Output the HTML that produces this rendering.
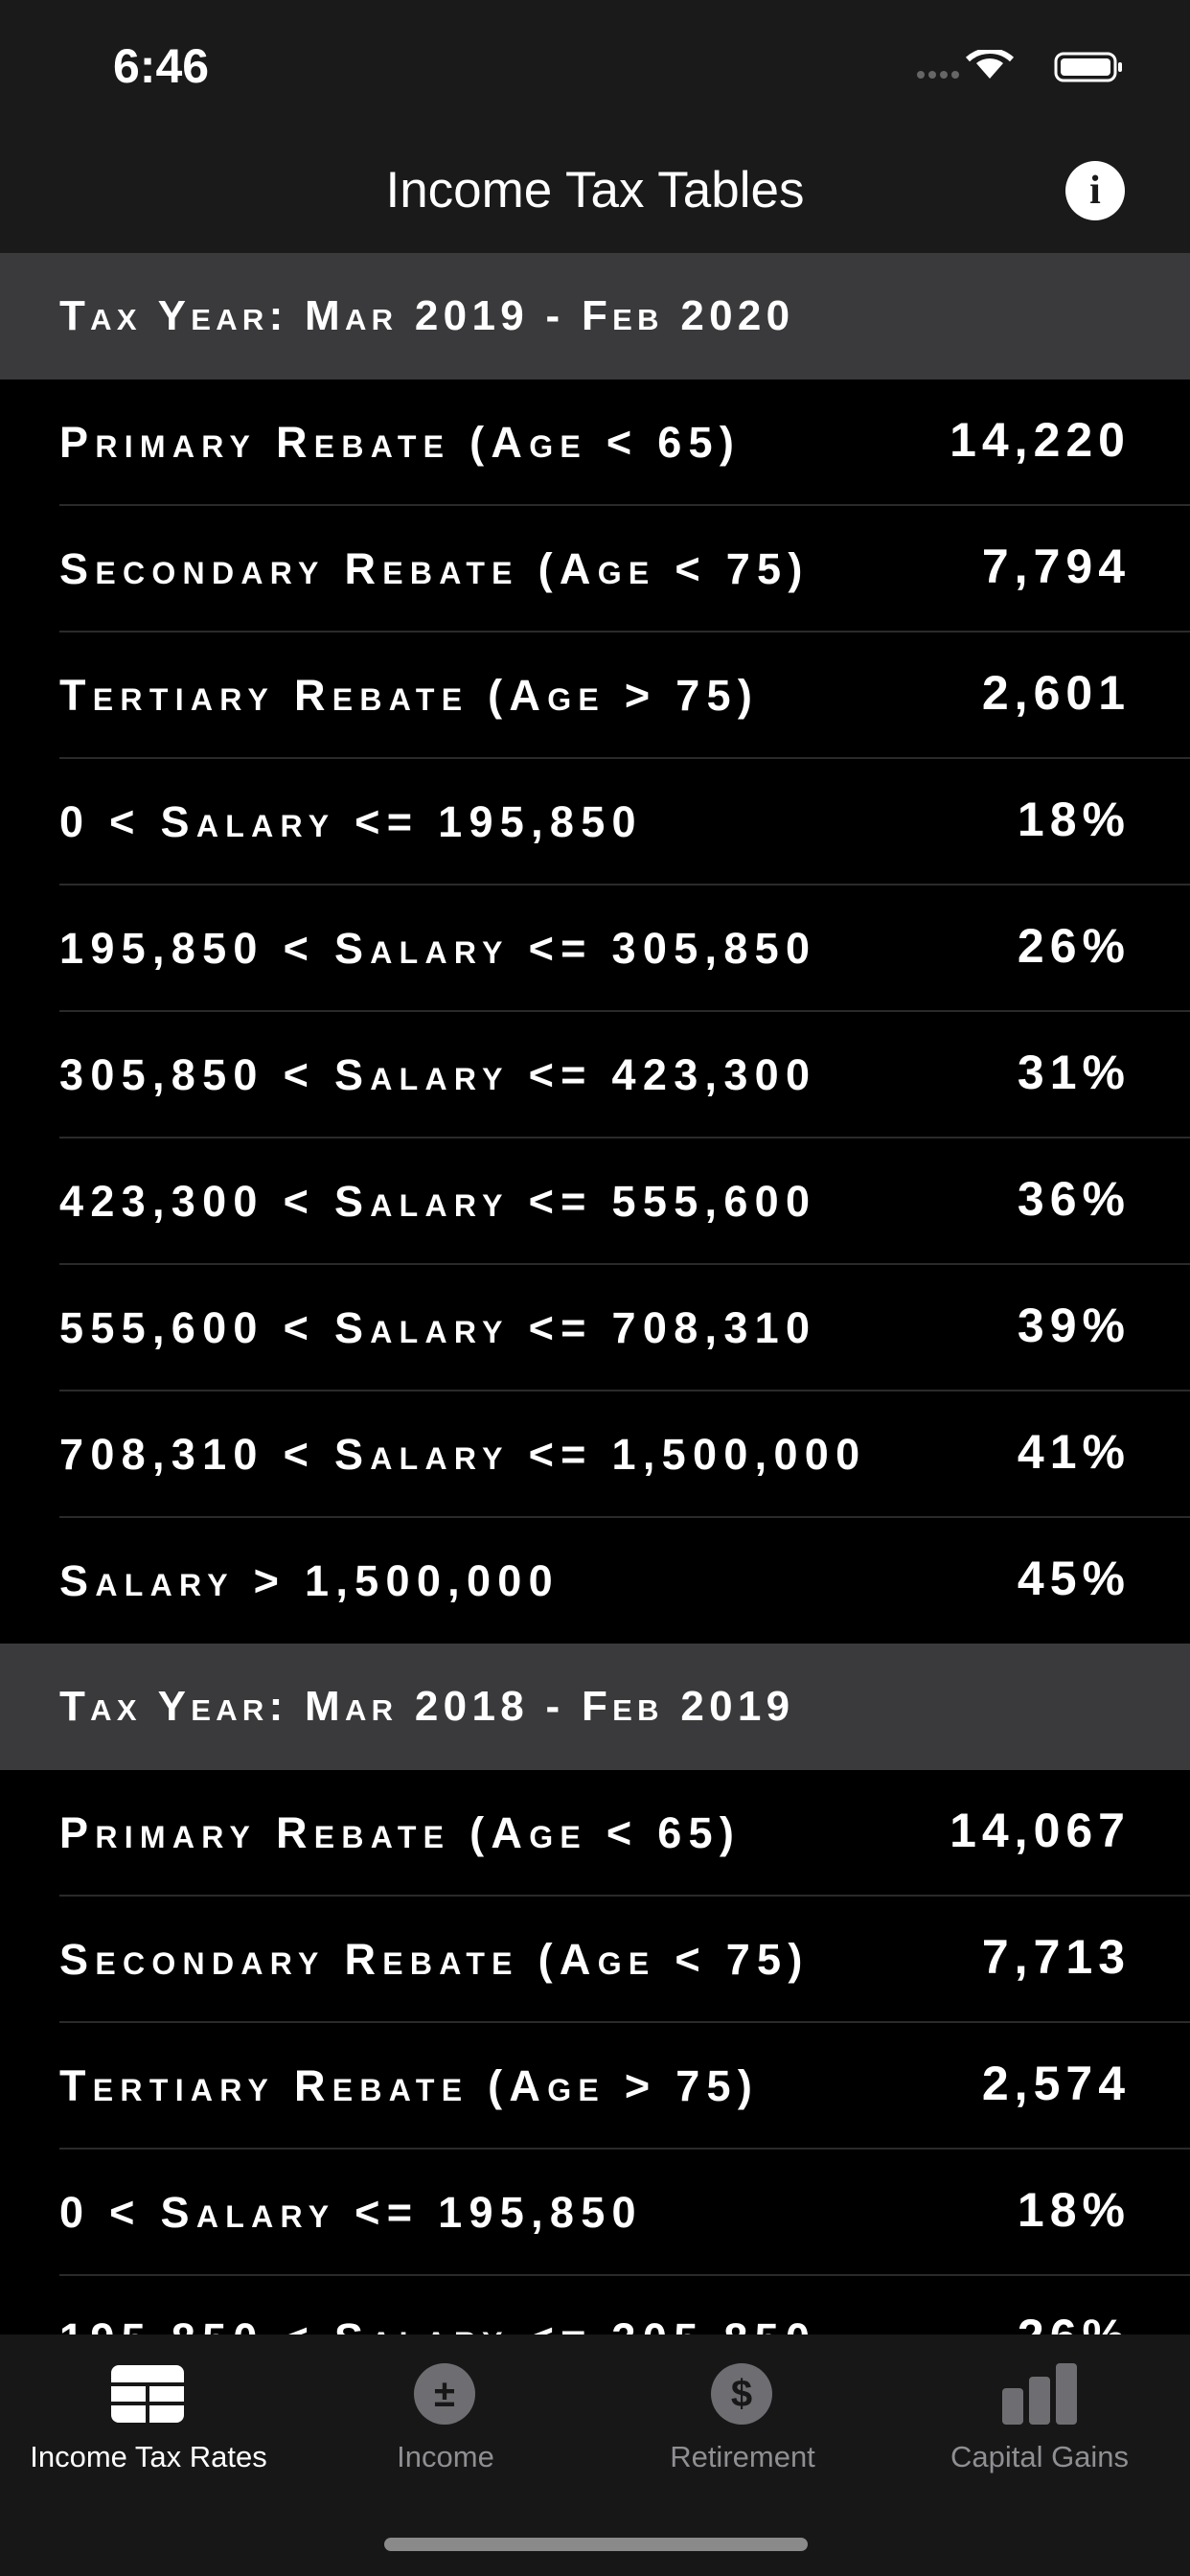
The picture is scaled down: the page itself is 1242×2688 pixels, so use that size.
<!DOCTYPE html>
<html><head><meta charset="utf-8"><style>
*{margin:0;padding:0;box-sizing:border-box}
body{width:1242px;height:2688px;background:#000;color:#fff;font-family:"Liberation Sans",sans-serif;position:relative;overflow:hidden}
.status{position:absolute;top:0;left:0;width:1242px;height:264px;background:#1a1a1a}
.time{position:absolute;left:118px;top:40px;font-size:50px;font-weight:bold}
.title{position:absolute;left:0;width:1242px;top:168px;text-align:center;font-size:53px}
.info{position:absolute;left:1112px;top:168px;width:62px;height:62px;border-radius:50%;background:#fff;color:#1a1a1a;text-align:center;font:bold 42px "Liberation Serif",serif;line-height:62px}
.hdr{position:absolute;left:0;width:1242px;height:132px;background:#3a3a3c;font-variant:small-caps;font-weight:bold;font-size:44px;letter-spacing:5.3px;padding-left:62px;line-height:132px}
.row{position:absolute;left:62px;width:1180px;height:132px;border-bottom:2px solid #2a2a2a;line-height:132px;font-variant:small-caps;font-weight:bold;font-size:45px;letter-spacing:7.3px}
.row .v{position:absolute;right:62px;top:-3px;font-size:50px;letter-spacing:6px}
.tab{position:absolute;left:0;top:2436px;width:1242px;height:252px;background:#171717}
.tl{position:absolute;top:2546px;font-size:31px;color:#8e8e93;text-align:center;width:310px}
.ic{position:absolute;top:2466px;width:64px;height:64px;border-radius:50%;background:#6e6e72;color:#171717;text-align:center;line-height:64px;font-size:40px;font-weight:bold}
.home{position:absolute;left:401px;top:2648px;width:442px;height:14px;border-radius:7px;background:#8a8a8a}
</style></head><body>
<div class="status">
<div class="time">6:46</div>
<svg style="position:absolute;left:955px;top:52px" width="230" height="36">
<g fill="#666"><circle cx="6" cy="26" r="4"/><circle cx="18" cy="26" r="4"/><circle cx="30" cy="26" r="4"/><circle cx="42" cy="26" r="4"/></g>
<path d="M78 30 L64 14 A22 22 0 0 1 92 14 Z" fill="#fff"/>
<path d="M55 10 A34 34 0 0 1 101 10" stroke="#fff" stroke-width="6" fill="none"/>
<rect x="147" y="4" width="62" height="28" rx="8" fill="none" stroke="#fff" stroke-width="3"/>
<rect x="152" y="9" width="52" height="18" rx="4" fill="#fff"/>
<rect x="212" y="13" width="4" height="10" rx="2" fill="#fff"/>
</svg>
<div class="title">Income Tax Tables</div>
<div class="info">i</div>
</div>
<div class="hdr" style="top:264px">Tax Year: Mar 2019 - Feb 2020</div>
<div class="row" style="top:396px">Primary Rebate (Age &lt; 65)<span class="v">14,220</span></div>
<div class="row" style="top:528px">Secondary Rebate (Age &lt; 75)<span class="v">7,794</span></div>
<div class="row" style="top:660px">Tertiary Rebate (Age &gt; 75)<span class="v">2,601</span></div>
<div class="row" style="top:792px">0 &lt; Salary &lt;= 195,850<span class="v">18%</span></div>
<div class="row" style="top:924px">195,850 &lt; Salary &lt;= 305,850<span class="v">26%</span></div>
<div class="row" style="top:1056px">305,850 &lt; Salary &lt;= 423,300<span class="v">31%</span></div>
<div class="row" style="top:1188px">423,300 &lt; Salary &lt;= 555,600<span class="v">36%</span></div>
<div class="row" style="top:1320px">555,600 &lt; Salary &lt;= 708,310<span class="v">39%</span></div>
<div class="row" style="top:1452px">708,310 &lt; Salary &lt;= 1,500,000<span class="v">41%</span></div>
<div class="row" style="top:1584px;border:none">Salary &gt; 1,500,000<span class="v">45%</span></div>
<div class="hdr" style="top:1715px">Tax Year: Mar 2018 - Feb 2019</div>
<div class="row" style="top:1847px">Primary Rebate (Age &lt; 65)<span class="v">14,067</span></div>
<div class="row" style="top:1979px">Secondary Rebate (Age &lt; 75)<span class="v">7,713</span></div>
<div class="row" style="top:2111px">Tertiary Rebate (Age &gt; 75)<span class="v">2,574</span></div>
<div class="row" style="top:2243px">0 &lt; Salary &lt;= 195,850<span class="v">18%</span></div>
<div class="row" style="top:2375px">195,850 &lt; Salary &lt;= 305,850<span class="v">26%</span></div>
<div class="tab"></div>
<svg style="position:absolute;left:116px;top:2468px" width="76" height="60"><rect width="76" height="60" rx="8" fill="#fff"/><g fill="#171717"><rect x="0" y="18" width="76" height="4"/><rect x="0" y="38" width="76" height="4"/><rect x="36" y="18" width="4" height="42"/></g></svg>
<div class="tl" style="left:0;color:#fff">Income Tax Rates</div>
<div class="ic" style="left:432px">±</div>
<div class="tl" style="left:310px">Income</div>
<div class="ic" style="left:742px">$</div>
<div class="tl" style="left:620px">Retirement</div>
<svg style="position:absolute;left:1046px;top:2466px" width="80" height="64"><g fill="#6e6e72"><rect x="0" y="26" width="22" height="38" rx="4"/><rect x="28" y="14" width="22" height="50" rx="4"/><rect x="56" y="0" width="22" height="64" rx="4"/></g></svg>
<div class="tl" style="left:930px">Capital Gains</div>
<div class="home"></div>
</body></html>
